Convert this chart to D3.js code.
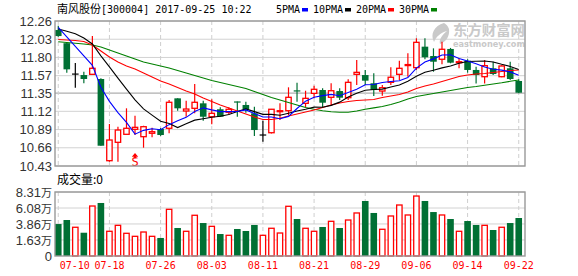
<!DOCTYPE html>
<html>
<head>
<meta charset="utf-8">
<script src="https://cdn.jsdelivr.net/npm/d3@7"></script>
<style>
body{margin:0;background:#fff}
svg{display:block}
</style>
</head>
<body>
<svg id="chart" width="578" height="276"></svg>
<script>
// 交易日
var dates = ["07-10","07-11","07-12","07-13","07-14","07-17","07-18","07-19","07-20","07-21","07-24","07-25","07-26","07-27","07-28","07-31",
  "08-01","08-02","08-03","08-04","08-07","08-08","08-09","08-10","08-11","08-14","08-15","08-16","08-17","08-18","08-21","08-22","08-23","08-24","08-25","08-28","08-29","08-30","08-31",
  "09-01","09-04","09-05","09-06","09-07","09-08","09-11","09-12","09-13","09-14","09-15","09-18","09-19","09-20","09-21","09-22"]
var open = [12.146,11.98,11.59,11.578,11.587,11.528,10.497,10.729,10.83,10.893,10.80,10.843,10.897,10.906,11.284,11.124,11.158,11.221,11.052,11.146,11.108,11.245,11.20,11.095,10.821,10.85,11.12,11.128,11.385,11.221,11.347,11.389,11.297,11.376,11.292,11.587,11.578,11.474,11.376,11.486,11.587,11.705,11.671,11.936,11.818,11.777,11.907,11.734,11.759,11.642,11.557,11.663,11.557,11.663,11.503]
var high = [12.20,11.99,11.73,11.62,12.07,11.537,10.96,10.926,11.158,11.065,10.938,10.913,10.91,11.263,11.284,11.254,11.465,11.254,11.272,11.171,11.17,11.245,11.241,11.178,11.0,11.15,11.221,11.423,11.481,11.38,11.443,11.41,11.474,11.41,11.524,11.768,11.642,11.60,11.452,11.676,11.759,11.852,12.042,12.042,11.915,11.999,11.92,11.789,11.777,11.683,11.768,11.746,11.70,11.746,11.524]
var low = [12.06,11.608,11.418,11.474,11.587,10.686,10.484,10.484,10.83,10.821,10.661,10.792,10.81,10.843,11.128,11.052,11.095,11.002,10.956,11.052,11.08,11.052,11.103,10.809,10.737,10.84,11.01,11.074,11.241,11.171,11.284,11.171,11.20,11.263,11.263,11.452,11.452,11.313,11.317,11.452,11.515,11.557,11.642,11.777,11.62,11.713,11.726,11.663,11.608,11.47,11.47,11.578,11.55,11.515,11.347]
var close = [12.07,11.65,11.59,11.528,11.663,10.686,10.758,10.884,10.906,10.918,10.926,10.863,10.821,11.234,11.158,11.149,11.234,11.052,11.095,11.052,11.146,11.241,11.146,10.884,10.821,11.146,11.128,11.297,11.38,11.284,11.398,11.229,11.38,11.292,11.486,11.612,11.507,11.389,11.418,11.55,11.663,11.71,11.991,11.802,11.746,11.903,11.734,11.746,11.642,11.578,11.696,11.591,11.692,11.528,11.355]
// 成交量(万)
var volume = [3.85,4.41,3.40,2.64,6.36,6.78,2.84,3.67,2.56,2.14,2.74,2.14,1.91,5.90,3.30,2.84,5.07,3.99,3.53,2.46,2.28,3.16,2.88,3.72,2.28,3.26,2.60,6.32,4.55,3.26,2.84,3.44,4.23,3.30,4.41,5.39,7.06,5.39,3.12,4.97,6.50,5.11,7.75,7.06,5.52,5.11,4.55,2.84,4.27,3.72,3.67,3.02,3.40,3.99,4.69]
// 均线
var ma5 = [12.18,12.06,11.94,11.82,11.70,11.424,11.246,11.104,10.98,10.832,10.88,10.90,10.888,10.952,11.00,11.044,11.118,11.164,11.138,11.116,11.116,11.118,11.138,11.094,11.048,11.048,11.026,11.056,11.156,11.248,11.298,11.318,11.334,11.316,11.358,11.40,11.456,11.458,11.484,11.496,11.506,11.546,11.666,11.742,11.782,11.83,11.834,11.786,11.754,11.72,11.68,11.652,11.64,11.618,11.574]
var ma10 = [12.16,12.13,12.10,12.045,11.97,11.82,11.68,11.54,11.40,11.265,11.151,11.072,10.995,10.966,10.915,10.962,11.009,11.026,11.045,11.058,11.080,11.118,11.151,11.116,11.082,11.082,11.071,11.096,11.124,11.147,11.173,11.171,11.195,11.236,11.302,11.349,11.387,11.396,11.40,11.426,11.453,11.501,11.562,11.613,11.639,11.668,11.691,11.726,11.749,11.752,11.755,11.743,11.713,11.686,11.647]
var ma20 = [12.027,12.02,12.014,12.001,11.957,11.881,11.806,11.743,11.692,11.654,11.604,11.553,11.503,11.465,11.421,11.377,11.339,11.288,11.244,11.2,11.162,11.124,11.086,11.048,11.017,11.017,11.032,11.061,11.086,11.111,11.137,11.168,11.2,11.225,11.244,11.257,11.263,11.269,11.295,11.313,11.332,11.364,11.408,11.44,11.465,11.496,11.528,11.56,11.578,11.591,11.597,11.61,11.623,11.635,11.642]
var ma30 = [11.999,11.989,11.98,11.97,11.957,11.932,11.894,11.856,11.818,11.78,11.743,11.717,11.692,11.667,11.635,11.604,11.572,11.541,11.509,11.484,11.459,11.433,11.408,11.37,11.332,11.294,11.263,11.231,11.2,11.168,11.146,11.127,11.115,11.109,11.108,11.124,11.146,11.164,11.181,11.206,11.238,11.276,11.307,11.326,11.345,11.364,11.383,11.402,11.421,11.433,11.45,11.465,11.48,11.499,11.515]
// 刻度
var priceTicks = [12.26,12.03,11.80,11.57,11.35,11.12,10.89,10.66,10.43]
var volTicks = [8.31,6.08,3.86,1.63]
var volFloor = -0.6
var dateTicks = ["07-10","07-18","07-26","08-03","08-11","08-21","08-29","09-06","09-14","09-22"]
var signalDate = "07-21"

var RED = "#ff0000", GREEN = "#007034"
var L = 55, R = 525, pT = 21, pB = 166, vT = 192, vB = 256

var svg = d3.select("#chart")

var x = d3.scaleBand().domain(dates).range([54, 523])
var cx = function(d){ return x(d) + x.bandwidth() / 2 }
var y = d3.scaleLinear().domain([10.43, 12.26]).range([pB, pT])
var yv = d3.scaleLinear().domain([volFloor, 8.31]).range([vB, vT])

// 标题
var title = svg.append("text").attr("x", 57).attr("y", 13).attr("fill", "#000")
title.append("tspan").style("font-family", "Noto Sans CJK SC").style("font-size", "11px").text("南风股份")
title.append("tspan").style("font-family", "DejaVu Sans Mono").style("font-size", "10px").text("[300004] 2017-09-25 10:22")

// 图例
var legend = [["5PMA", "#0000ff"], ["10PMA", "#000"], ["20PMA", RED], ["30PMA", "#008000"]]
var legendX = [302, 345, 388, 431]
legend.forEach(function(d, i){
    svg.append("text").attr("x", legendX[i] - 2).attr("y", 13).attr("text-anchor", "end")
        .style("font-family", "DejaVu Sans Mono").style("font-size", "10px").text(d[0])
    svg.append("rect").attr("x", legendX[i]).attr("y", 8).attr("width", 6).attr("height", 3.5).attr("fill", d[1])
})

// 网格
svg.selectAll(".hgrid").data(priceTicks).enter().append("line")
    .attr("x1", L).attr("x2", R).attr("y1", function(d){ return y(d) }).attr("y2", function(d){ return y(d) })
    .attr("stroke", function(d){ return d === 11.35 ? "#9a9a9a" : "#d2d2d2" }).attr("stroke-width", 1)
svg.selectAll(".vgrid").data(volTicks).enter().append("line")
    .attr("x1", L).attr("x2", R).attr("y1", function(d){ return yv(d) }).attr("y2", function(d){ return yv(d) })
    .attr("stroke", "#d2d2d2")
dateTicks.forEach(function(d){
    [[pT, pB], [vT, vB]].forEach(function(r){
        svg.append("line").attr("x1", cx(d)).attr("x2", cx(d)).attr("y1", r[0]).attr("y2", r[1])
            .attr("stroke", "#cfcfcf").attr("stroke-dasharray", "4,3")
    })
})

// 水印
var wm = svg.append("g").attr("fill", "#c9c9c9")
wm.append("path").attr("d", "M444,23 C434,26 430,34 434,42 C436,37 440,33 447,31 C441,36 439,40 440,44 C446,42 450,36 449,29 C448,26 446,24 444,23 Z")
wm.append("text").attr("x", 453).attr("y", 35).attr("textLength", 72).attr("lengthAdjust", "spacingAndGlyphs")
    .style("font-family", "Noto Sans CJK SC").style("font-size", "14px").style("font-weight", "bold").text("东方财富网")
wm.append("text").attr("x", 453).attr("y", 47).attr("textLength", 72).attr("lengthAdjust", "spacingAndGlyphs")
    .style("font-family", "DejaVu Sans").style("font-size", "8.5px").style("font-weight", "bold").text("eastmoney.com")

// K线
var candles = svg.append("g")
dates.forEach(function(d, i){
    var o = open[i], c = close[i], h = high[i], l = low[i], xc = cx(d)
    if (o === c) {
        candles.append("line").attr("x1", xc).attr("x2", xc).attr("y1", y(h)).attr("y2", y(l)).attr("stroke", "#000").attr("stroke-width", 1.2)
        candles.append("line").attr("x1", xc - 3.3).attr("x2", xc + 3.3).attr("y1", y(o)).attr("y2", y(o)).attr("stroke", "#000").attr("stroke-width", 1.2)
    } else if (c > o) {
        candles.append("line").attr("x1", xc).attr("x2", xc).attr("y1", y(h)).attr("y2", y(c)).attr("stroke", RED).attr("stroke-width", 1.2)
        candles.append("line").attr("x1", xc).attr("x2", xc).attr("y1", y(o)).attr("y2", y(l)).attr("stroke", RED).attr("stroke-width", 1.2)
        candles.append("rect").attr("x", xc - 2.7).attr("width", 5.4).attr("y", y(c)).attr("height", Math.max(1, y(o) - y(c)))
            .attr("fill", "#fff").attr("stroke", RED).attr("stroke-width", 1.3)
    } else {
        candles.append("line").attr("x1", xc).attr("x2", xc).attr("y1", y(h)).attr("y2", y(l)).attr("stroke", GREEN).attr("stroke-width", 1.2)
        candles.append("rect").attr("x", xc - 3.3).attr("width", 6.6).attr("y", y(o)).attr("height", Math.max(1.2, y(c) - y(o)))
            .attr("fill", GREEN)
    }
})

// 均线
var line = d3.line().x(function(d, i){ return cx(dates[i]) }).y(function(d){ return y(d) })
;[[ma30, "#008000"], [ma20, RED], [ma10, "#000"], [ma5, "#0000ff"]].forEach(function(m){
    svg.append("path").datum(m[0]).attr("d", line).attr("fill", "none").attr("stroke", m[1]).attr("stroke-width", 1.1)
})

// S 信号
var si = dates.indexOf(signalDate)
var sx = cx(signalDate), sy = y(low[si]) + 18
svg.append("path").attr("d", "M" + sx + "," + sy + " l-3.2,3.8 h2.3 v1.6 h1.8 v-1.6 h2.3 z").attr("fill", RED)
svg.append("text").attr("x", sx).attr("y", sy + 13).attr("text-anchor", "middle").attr("fill", RED)
    .style("font-family", "DejaVu Sans Mono").style("font-size", "12px").text("S")

// 成交量
svg.append("text").attr("x", 57).attr("y", 184).style("font-size", "12px")
    .style("font-family", "Noto Sans CJK SC").text("成交量:0")
var bars = svg.append("g")
dates.forEach(function(d, i){
    var xc = cx(d), v = volume[i]
    if (close[i] >= open[i]) {
        bars.append("rect").attr("x", xc - 2.7).attr("width", 5.4).attr("y", yv(v)).attr("height", vB - yv(v))
            .attr("fill", "#fff").attr("stroke", RED).attr("stroke-width", 1.3)
    } else {
        bars.append("rect").attr("x", xc - 3.3).attr("width", 6.6).attr("y", yv(v)).attr("height", vB - yv(v)).attr("fill", GREEN)
    }
})

// 边框
svg.append("rect").attr("x", L).attr("y", pT).attr("width", R - L).attr("height", pB - pT).attr("fill", "none").attr("stroke", "#999").attr("stroke-width", 1.4)
svg.append("rect").attr("x", L).attr("y", vT).attr("width", R - L).attr("height", vB - vT).attr("fill", "none").attr("stroke", "#999").attr("stroke-width", 1.4)

// 坐标轴
var yAxis = d3.axisLeft(y).tickValues(priceTicks).tickSize(0).tickPadding(3).tickFormat(d3.format(".2f"))
var gy = svg.append("g").attr("transform", "translate(" + L + ",0)").call(yAxis)
gy.select(".domain").remove()
gy.selectAll("text").style("font-family", "Liberation Sans").style("font-size", "13px").attr("fill", "#333")

var vAxis = d3.axisLeft(yv).tickValues(volTicks.concat([volFloor])).tickSize(0).tickPadding(3)
var gv = svg.append("g").attr("transform", "translate(" + L + ",0)").call(vAxis)
gv.select(".domain").remove()
gv.selectAll("text").style("font-family", "Liberation Sans").style("font-size", "13px").attr("fill", "#333")
    .each(function(d){
        var t = d3.select(this)
        t.text(null)
        if (d === volFloor) { t.text("0"); return }
        t.append("tspan").text(d3.format(".2f")(d))
        t.append("tspan").style("font-family", "Noto Sans CJK SC").style("font-size", "11px").text("万")
    })

var xAxis = d3.axisBottom(x).tickValues(dateTicks).tickSize(0).tickPadding(6)
var gx = svg.append("g").attr("transform", "translate(0," + vB + ")").call(xAxis)
gx.select(".domain").remove()
gx.selectAll("text").style("font-family", "DejaVu Sans Mono").style("font-size", "10px").attr("fill", RED)
    .attr("text-anchor", function(d, i){ return i === 0 ? "start" : "middle" })
    .attr("dx", function(d, i){ return i === 0 ? "1.5" : "0" })
</script>
</body>
</html>
